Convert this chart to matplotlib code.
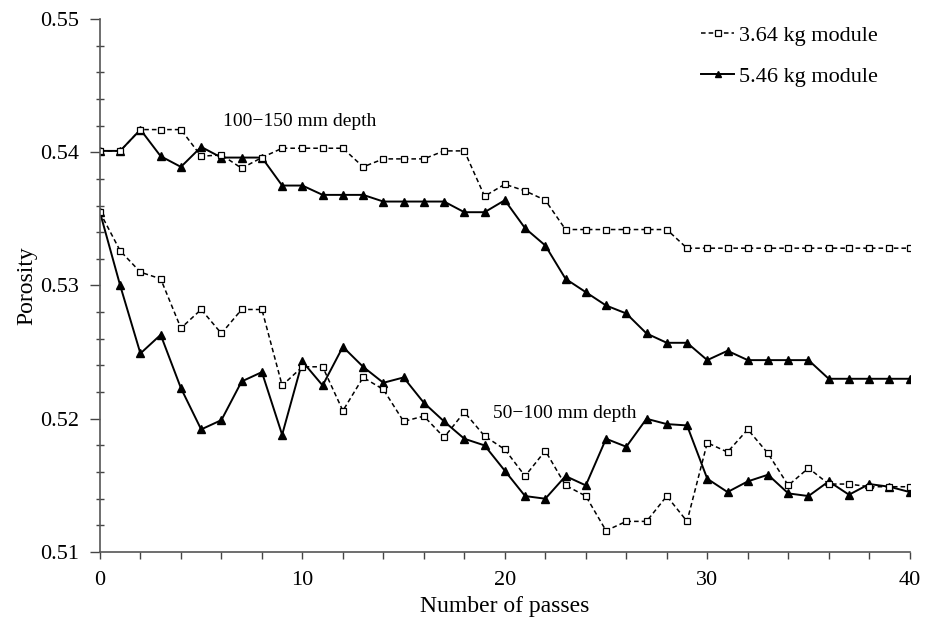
import matplotlib
matplotlib.use("Agg")
import matplotlib.pyplot as plt
from matplotlib.ticker import MultipleLocator, FormatStrFormatter

plt.rcParams["font.family"] = ["Liberation Serif", "DejaVu Serif"]

passes = list(range(41))

# 100-150 mm depth
deep_364 = [0.5401, 0.5401, 0.5417, 0.5417, 0.5417, 0.5397, 0.5398, 0.5388, 0.5396, 0.5403,
            0.5403, 0.5403, 0.5403, 0.5389, 0.5395, 0.5395, 0.5395, 0.5401, 0.5401, 0.5367,
            0.5376, 0.5371, 0.5364, 0.5342, 0.5342, 0.5342, 0.5342, 0.5342, 0.5342, 0.5328,
            0.5328, 0.5328, 0.5328, 0.5328, 0.5328, 0.5328, 0.5328, 0.5328, 0.5328, 0.5328,
            0.5328]
deep_546 = [0.5401, 0.5401, 0.5417, 0.5397, 0.5389, 0.5404, 0.5396, 0.5396, 0.5396, 0.5375,
            0.5375, 0.5368, 0.5368, 0.5368, 0.5363, 0.5363, 0.5363, 0.5363, 0.5355, 0.5355,
            0.5364, 0.5343, 0.5330, 0.5305, 0.5295, 0.5285, 0.5279, 0.5264, 0.5257, 0.5257,
            0.5244, 0.5251, 0.5244, 0.5244, 0.5244, 0.5244, 0.5230, 0.5230, 0.5230, 0.5230,
            0.5230]

# 50-100 mm depth
shallow_364 = [0.5355, 0.5326, 0.5310, 0.5305, 0.5268, 0.5282, 0.5264, 0.5282, 0.5282, 0.5225,
               0.5239, 0.5239, 0.5206, 0.5231, 0.5222, 0.5198, 0.5202, 0.5186, 0.5205, 0.5187,
               0.5177, 0.5157, 0.5176, 0.5150, 0.5142, 0.5116, 0.5123, 0.5123, 0.5142, 0.5123,
               0.5182, 0.5175, 0.5192, 0.5174, 0.5150, 0.5163, 0.5151, 0.5151, 0.5149, 0.5149,
               0.5149]
shallow_546 = [0.5355, 0.5300, 0.5249, 0.5263, 0.5223, 0.5192, 0.5199, 0.5228, 0.5235, 0.5188,
               0.5243, 0.5225, 0.5254, 0.5239, 0.5227, 0.5231, 0.5212, 0.5198, 0.5185, 0.5180,
               0.5161, 0.5142, 0.5140, 0.5157, 0.5150, 0.5185, 0.5179, 0.5200, 0.5196, 0.5195,
               0.5155, 0.5145, 0.5153, 0.5158, 0.5144, 0.5142, 0.5153, 0.5143, 0.5151, 0.5149,
               0.5145]

fig = plt.figure(figsize=(9.34, 6.22), dpi=100)
ax = fig.add_axes([0.107, 0.1125, 0.867, 0.857])

sq = dict(color="black", linestyle=(0, (3, 2)), linewidth=1.1, marker="s", markersize=5,
          markerfacecolor="white", markeredgecolor="black", markeredgewidth=0.9)
tri = dict(color="black", linestyle="-", linewidth=1.4, marker="^", markersize=6,
           markerfacecolor="black", markeredgecolor="black")

# solid lines first, dashed drawn on top
ax.plot(passes, deep_546, **tri, label="5.46 kg module")
ax.plot(passes, shallow_546, **tri)
ax.plot(passes, deep_364, **sq, label="3.64 kg module")
ax.plot(passes, shallow_364, **sq)

ax.text(6.1, 0.5423, "100\u2212150 mm depth", fontsize=14, va="center")
ax.text(19.4, 0.5204, "50\u2212100 mm depth", fontsize=14, va="center")

ax.set_xlim(0, 40)
ax.set_ylim(0.51, 0.55)
ax.xaxis.set_major_locator(MultipleLocator(10))
ax.xaxis.set_minor_locator(MultipleLocator(2))
ax.yaxis.set_major_locator(MultipleLocator(0.01))
ax.yaxis.set_minor_locator(MultipleLocator(0.002))
ax.yaxis.set_major_formatter(FormatStrFormatter("%.2f"))
ax.tick_params(which="both", colors="#444444", labelcolor="black", labelsize=16, width=1)
ax.tick_params(axis="y", which="major", direction="out", length=7, pad=8)
ax.tick_params(axis="y", which="minor", direction="inout", length=6)
ax.tick_params(axis="x", which="both", direction="out", length=5, pad=9)
ax.spines["top"].set_visible(False)
ax.spines["right"].set_visible(False)
for s in ("left", "bottom"):
    ax.spines[s].set_color("#555555")
    ax.spines[s].set_linewidth(1.2)

ax.set_xlabel("Number of passes", fontsize=17, labelpad=4)
ax.set_ylabel("Porosity", fontsize=17, labelpad=2)

handles, labels = ax.get_legend_handles_labels()
ax.legend(handles[::-1], labels[::-1], loc="upper right", bbox_to_anchor=(0.985, 1.025),
          frameon=False, fontsize=16, handlelength=1.5, handletextpad=0.2,
          labelspacing=0.9, markerscale=0.8)

fig.savefig("out.png", dpi=100)
